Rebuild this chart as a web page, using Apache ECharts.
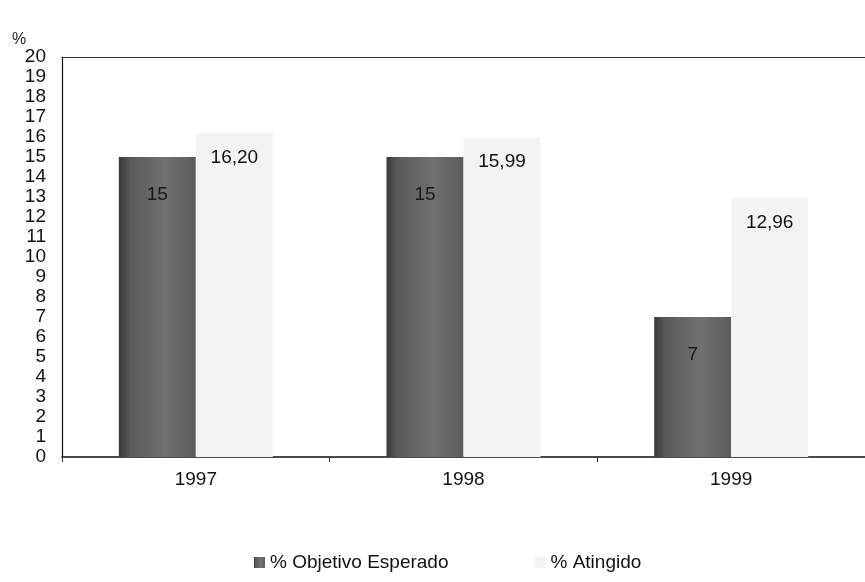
<!DOCTYPE html>
<html><head><meta charset="utf-8">
<script src="https://cdn.jsdelivr.net/npm/echarts@6/dist/echarts.min.js"></script>
<style>html,body{margin:0;padding:0;background:#fff}#c{width:865px;height:582px}</style>
</head><body><div id="c"></div>
<script>
var categories = ['1997', '1998', '1999'];
var objetivoEsperado = [15, 15, 7];
var atingido = [16.20, 15.99, 12.96];
var yTicks = [0, 1, 2, 3, 4, 5, 6, 7, 8, 9, 10, 11, 12, 13, 14, 15, 16, 17, 18, 19, 20];

var chart = echarts.init(document.getElementById('c'), null, {renderer: 'canvas'});
var font = 'Liberation Sans, Arial, sans-serif';
chart.setOption({
  animation: false,
  backgroundColor: '#fff',
  textStyle: {fontFamily: font},
  title: {text: '%', left: 7, top: 27, textStyle: {fontSize: 16, fontWeight: 'normal', color: '#222', fontFamily: font}},
  grid: {left: 62, right: 0, top: 57, bottom: 125, containLabel: false},
  legend: {
    bottom: 5, left: 249, itemGap: 86, itemWidth: 11, itemHeight: 11,
    icon: 'rect',
    textStyle: {fontSize: 19, color: '#111', fontFamily: font},
    data: ['% Objetivo Esperado', '% Atingido']
  },
  xAxis: [{
    type: 'category', data: categories,
    axisLine: {lineStyle: {color: '#111', width: 1.5}},
    axisTick: {show: true, length: 5, lineStyle: {color: '#333'}},
    axisLabel: {fontSize: 19, color: '#111', margin: 13, fontFamily: font}
  }, {
    type: 'category', data: categories, position: 'top',
    axisLine: {show: true, lineStyle: {color: '#333', width: 1.2}},
    axisTick: {show: false}, axisLabel: {show: false}
  }],
  yAxis: {
    type: 'value', min: yTicks[0], max: yTicks[yTicks.length - 1], interval: 1,
    axisLine: {show: true, lineStyle: {color: '#111', width: 1.2}},
    axisTick: {show: false},
    splitLine: {show: false},
    axisLabel: {fontSize: 19, color: '#111', margin: 16, fontFamily: font}
  },
  series: [{
    name: '% Objetivo Esperado', type: 'bar', data: objetivoEsperado,
    barWidth: 77, barGap: '0%',
    itemStyle: {
      color: new echarts.graphic.LinearGradient(0, 0, 1, 0, [
        {offset: 0, color: '#3a3a3a'}, {offset: 0.15, color: '#5a5a5a'}, {offset: 0.6, color: '#707070'}, {offset: 1, color: '#5c5c5c'}
      ])
    },
    label: {show: true, position: 'insideTop', distance: 28, fontSize: 19, color: '#1a1a1a', fontFamily: font}
  }, {
    name: '% Atingido', type: 'bar', data: atingido,
    barWidth: 77,
    itemStyle: {color: '#f3f3f3'},
    label: {
      show: true, position: 'insideTop', distance: 15, fontSize: 19, color: '#111', fontFamily: font,
      formatter: function (p) { return p.value.toFixed(2).replace('.', ','); }
    }
  }]
});
</script></body></html>
